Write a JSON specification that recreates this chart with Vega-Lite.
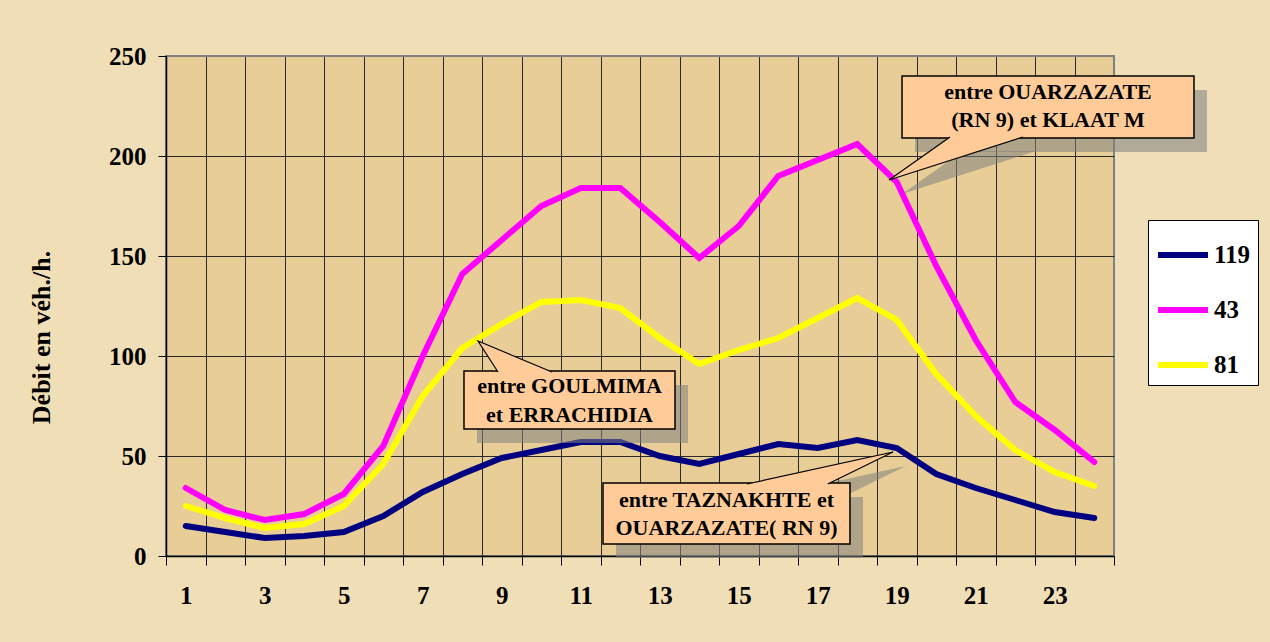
{
  "$schema": "https://vega.github.io/schema/vega-lite/v6.json",
  "autosize": "none",
  "width": 948,
  "height": 500,
  "padding": {"left": 166, "top": 56, "right": 156, "bottom": 86},
  "background": "#F0DEB7",
  "config": {
    "view": {"fill": "#E8CE96", "stroke": "#808080", "strokeWidth": 2}
  },
  "datasets": {
    "series": [
      {"h":1,"s":"119","v":15},{"h":2,"s":"119","v":12},{"h":3,"s":"119","v":9},{"h":4,"s":"119","v":10},{"h":5,"s":"119","v":12},{"h":6,"s":"119","v":20},{"h":7,"s":"119","v":32},{"h":8,"s":"119","v":41},{"h":9,"s":"119","v":49},{"h":10,"s":"119","v":53},{"h":11,"s":"119","v":57},{"h":12,"s":"119","v":57},{"h":13,"s":"119","v":50},{"h":14,"s":"119","v":46},{"h":15,"s":"119","v":51},{"h":16,"s":"119","v":56},{"h":17,"s":"119","v":54},{"h":18,"s":"119","v":58},{"h":19,"s":"119","v":54},{"h":20,"s":"119","v":41},{"h":21,"s":"119","v":34},{"h":22,"s":"119","v":28},{"h":23,"s":"119","v":22},{"h":24,"s":"119","v":19},
      {"h":1,"s":"43","v":34},{"h":2,"s":"43","v":23},{"h":3,"s":"43","v":18},{"h":4,"s":"43","v":21},{"h":5,"s":"43","v":31},{"h":6,"s":"43","v":55},{"h":7,"s":"43","v":100},{"h":8,"s":"43","v":141},{"h":9,"s":"43","v":158},{"h":10,"s":"43","v":175},{"h":11,"s":"43","v":184},{"h":12,"s":"43","v":184},{"h":13,"s":"43","v":167},{"h":14,"s":"43","v":149},{"h":15,"s":"43","v":165},{"h":16,"s":"43","v":190},{"h":17,"s":"43","v":198},{"h":18,"s":"43","v":206},{"h":19,"s":"43","v":187},{"h":20,"s":"43","v":145},{"h":21,"s":"43","v":108},{"h":22,"s":"43","v":77},{"h":23,"s":"43","v":63},{"h":24,"s":"43","v":47},
      {"h":1,"s":"81","v":25},{"h":2,"s":"81","v":19},{"h":3,"s":"81","v":14},{"h":4,"s":"81","v":16},{"h":5,"s":"81","v":25},{"h":6,"s":"81","v":46},{"h":7,"s":"81","v":80},{"h":8,"s":"81","v":104},{"h":9,"s":"81","v":116},{"h":10,"s":"81","v":127},{"h":11,"s":"81","v":128},{"h":12,"s":"81","v":124},{"h":13,"s":"81","v":109},{"h":14,"s":"81","v":96},{"h":15,"s":"81","v":103},{"h":16,"s":"81","v":109},{"h":17,"s":"81","v":119},{"h":18,"s":"81","v":129},{"h":19,"s":"81","v":118},{"h":20,"s":"81","v":91},{"h":21,"s":"81","v":70},{"h":22,"s":"81","v":53},{"h":23,"s":"81","v":42},{"h":24,"s":"81","v":35}
    ],
    "shadows": [
      {"h":19.463,"h2":26.854,"v":233,"v2":202},
      {"h":8.373,"h2":13.715,"v":85.5,"v2":56.5},
      {"h":11.892,"h2":18.146,"v":29.5,"v2":-1}
    ],
    "pshadows": [
      {"id":"a","o":1,"h":20.677,"v":202.5},{"id":"a","o":2,"h":19.133,"v":181},{"id":"a","o":3,"h":22.525,"v":202.5},
      {"id":"b","o":1,"h":9.234,"v":85},{"id":"b","o":2,"h":8.728,"v":100.5},{"id":"b","o":3,"h":10.601,"v":85},
      {"id":"c","o":1,"h":15.538,"v":29},{"id":"c","o":2,"h":19.234,"v":45},{"id":"c","o":3,"h":17.582,"v":29}
    ],
    "boxes": [
      {"h":19.133,"h2":26.525,"v":240,"v2":209},
      {"h":8.044,"h2":13.386,"v":92.5,"v2":63.5},
      {"h":11.563,"h2":17.816,"v":36.5,"v2":6}
    ],
    "pointers": [
      {"id":"a","o":1,"h":20.348,"v":209.5},{"id":"a","o":2,"h":18.804,"v":188},{"id":"a","o":3,"h":22.196,"v":209.5},
      {"id":"b","o":1,"h":8.905,"v":92},{"id":"b","o":2,"h":8.399,"v":107.5},{"id":"b","o":3,"h":10.272,"v":92},
      {"id":"c","o":1,"h":15.209,"v":36},{"id":"c","o":2,"h":18.905,"v":52},{"id":"c","o":3,"h":17.253,"v":36}
    ],
    "labels": [
      {"h":22.829,"v":232,"t":"entre OUARZAZATE"},
      {"h":22.829,"v":218,"t":"(RN 9) et KLAAT M"},
      {"h":10.715,"v":85,"t":"entre GOULMIMA"},
      {"h":10.715,"v":70.5,"t":"et ERRACHIDIA"},
      {"h":14.69,"v":28,"t":"entre TAZNAKHTE et"},
      {"h":14.69,"v":14,"t":"OUARZAZATE( RN 9)"}
    ]
  },
  "encoding": {
    "x": {
      "field": "h", "type": "quantitative",
      "scale": {"domain": [0.5, 24.5], "nice": false, "zero": false},
      "axis": {
        "values": [0.5,1.5,2.5,3.5,4.5,5.5,6.5,7.5,8.5,9.5,10.5,11.5,12.5,13.5,14.5,15.5,16.5,17.5,18.5,19.5,20.5,21.5,22.5,23.5,24.5],
        "grid": true,
        "gridColor": {"condition": {"test": "datum.value > 24", "value": "#808080"}, "value": "#2a2a2a"},
        "gridWidth": 1,
        "tickSize": 9,
        "tickColor": "black",
        "domainColor": "black",
        "domainWidth": 1.5,
        "labelExpr": "((datum.value + 0.5) % 2 == 1 && datum.value < 24) ? format(datum.value + 0.5, 'd') : ''",
        "labelOffset": 19.75,
        "labelOverlap": false,
        "labelFlush": false,
        "labelBound": false,
        "labelFont": "Liberation Serif",
        "labelFontWeight": "bold",
        "labelFontSize": 25,
        "labelColor": "black",
        "labelPadding": 18,
        "title": null
      }
    },
    "y": {
      "field": "v", "type": "quantitative",
      "scale": {"domain": [0, 250], "nice": false},
      "axis": {
        "values": [0, 50, 100, 150, 200, 250],
        "grid": true,
        "gridColor": {"condition": {"test": "datum.value == 250", "value": "#808080"}, "value": "#2a2a2a"},
        "gridWidth": 1,
        "tickSize": 8,
        "tickColor": "black",
        "domainColor": "black",
        "domainWidth": 1.5,
        "labelFont": "Liberation Serif",
        "labelFontWeight": "bold",
        "labelFontSize": 25,
        "labelColor": "black",
        "labelPadding": 12,
        "title": "Débit en véh./h.",
        "titleFont": "Liberation Serif",
        "titleFontWeight": "bold",
        "titleFontSize": 26,
        "titleColor": "black",
        "titleX": -125,
        "titleY": 281,
        "titleAngle": -90,
        "titleAlign": "center",
        "titleBaseline": "middle"
      }
    }
  },
  "layer": [
    {
      "data": {"name": "series"},
      "mark": {"type": "line", "strokeWidth": 6, "strokeCap": "round", "strokeJoin": "miter"},
      "encoding": {
        "color": {
          "field": "s", "type": "nominal",
          "scale": {"domain": ["119", "43", "81"], "range": ["#000080", "#FF00FF", "#FFFF00"]},
          "sort": ["119", "43", "81"],
          "legend": {
            "orient": "none",
            "legendX": 982,
            "legendY": 164,
            "title": null,
            "fillColor": "white",
            "strokeColor": "black",
            "padding": 7,
            "symbolType": "stroke",
            "symbolSize": 2500,
            "symbolStrokeWidth": 6,
            "labelFont": "Liberation Serif",
            "labelFontWeight": "bold",
            "labelFontSize": 25,
            "labelColor": "black",
            "labelOffset": 3,
            "rowPadding": 14
          }
        }
      }
    },
    {
      "data": {"name": "shadows"},
      "mark": {"type": "rect", "fill": "#808080", "opacity": 0.55},
      "encoding": {"x2": {"field": "h2"}, "y2": {"field": "v2"}}
    },
    {
      "data": {"name": "pshadows"},
      "mark": {"type": "line", "filled": true, "fill": "#808080", "opacity": 0.55, "strokeWidth": 0},
      "encoding": {"detail": {"field": "id"}, "order": {"field": "o"}}
    },
    {
      "data": {"name": "boxes"},
      "mark": {"type": "rect", "fill": "#FFCC99", "stroke": "black", "strokeWidth": 1.5},
      "encoding": {"x2": {"field": "h2"}, "y2": {"field": "v2"}}
    },
    {
      "data": {"name": "pointers"},
      "mark": {"type": "line", "filled": true, "fill": "#FFCC99", "stroke": "black", "strokeWidth": 1.2},
      "encoding": {"detail": {"field": "id"}, "order": {"field": "o"}}
    },
    {
      "data": {"name": "labels"},
      "mark": {"type": "text", "font": "Liberation Serif", "fontWeight": "bold", "fontSize": 22, "color": "black", "align": "center", "baseline": "middle"},
      "encoding": {"text": {"field": "t"}}
    }
  ]
}
